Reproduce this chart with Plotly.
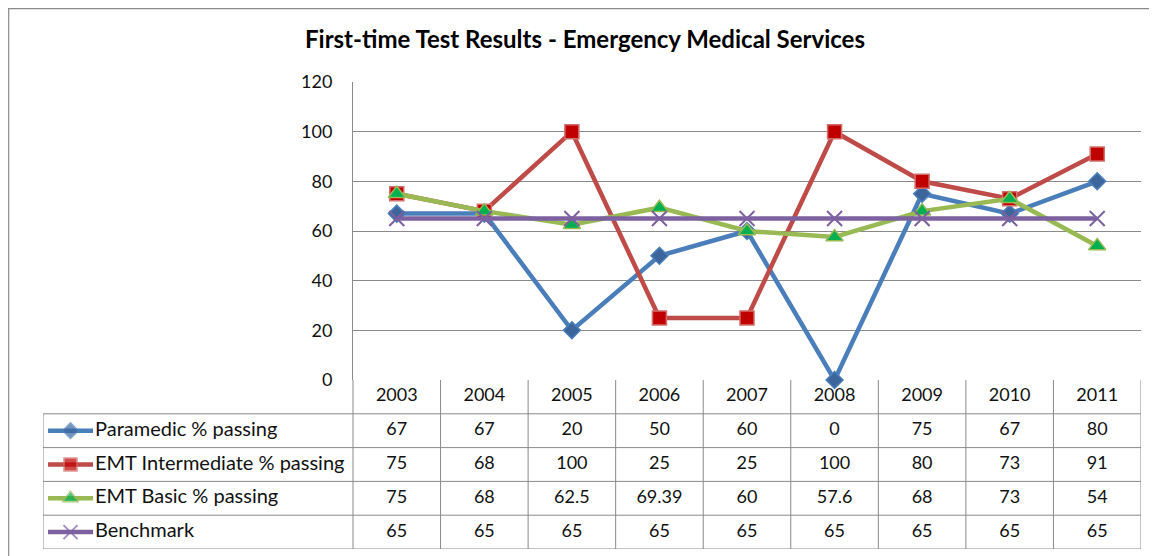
import plotly.graph_objects as go

# ---------------- data ----------------
years = ["2003", "2004", "2005", "2006", "2007", "2008", "2009", "2010", "2011"]
paramedic = [67, 67, 20, 50, 60, 0, 75, 67, 80]
emt_intermediate = [75, 68, 100, 25, 25, 100, 80, 73, 91]
emt_basic = [75, 68, 62.5, 69.39, 60, 57.6, 68, 73, 54]
benchmark = [65, 65, 65, 65, 65, 65, 65, 65, 65]
series_names = ["Paramedic % passing", "EMT Intermediate % passing",
                "EMT Basic % passing", "Benchmark"]
title_text = "First-time Test Results - Emergency Medical Services"
y_ticks = [0, 20, 40, 60, 80, 100, 120]

# ---------------- styling ----------------
W, H = 1157, 556
OFF = 8  # page body margin offset
FONT = "Lato"
GRID = "#8a8a8a"
styles = [
    dict(line="#4A7EBB", mfill="#3B659B", mline="#4A7EBB", symbol="diamond", size=13),
    dict(line="#BE4B48", mfill="#C00000", mline="#D26E6B", symbol="square", size=14),
    dict(line="#98B954", mfill="#00B050", mline="#98B954", symbol="triangle-up", size=15),
    dict(line="#7D60A0", mfill="#7D60A0", mline="#7D60A0", symbol="x-thin-open", size=15),
]
all_series = [paramedic, emt_intermediate, emt_basic, benchmark]


def xp(px):
    return (px - OFF) / W


def yp(py):
    return 1 - (py - OFF) / H


# pixel frame (screen coordinates)
PL, PR, PT, PB = 353, 1141, 82, 380       # plot area
TL, TB = 43, 549                            # table left / bottom
n = len(years)
cat_w = (PR - PL) / n
x2min = -0.5 - (PL - TL) / cat_w
nrows = 1 + len(all_series)


def px2x(px):
    return -0.5 + (px - PL) / cat_w


def fmt(v):
    return f"{v:g}"


fig = go.Figure()

# main lines
for name, vals, st in zip(series_names, all_series, styles):
    is_x = st["symbol"].startswith("x")
    fig.add_trace(go.Scatter(
        x=years, y=vals, name=name, mode="lines+markers",
        line=dict(color=st["line"], width=4.5),
        marker=dict(symbol=st["symbol"], size=st["size"], color=st["mfill"],
                    line=dict(color=st["mline"], width=2 if is_x else 1.5)),
        cliponaxis=False, showlegend=False, xaxis="x", yaxis="y"))

# table header (years)
fig.add_trace(go.Scatter(
    x=list(range(n)), y=[0.5] * n, text=years, mode="text",
    textfont=dict(family=FONT, size=18, color="#111"),
    showlegend=False, xaxis="x2", yaxis="y2", hoverinfo="skip"))

# table values + legend keys + labels
for r, (name, vals, st) in enumerate(zip(series_names, all_series, styles), start=1):
    yc = r + 0.5
    fig.add_trace(go.Scatter(
        x=list(range(n)), y=[yc] * n, text=[fmt(v) for v in vals], mode="text",
        textfont=dict(family=FONT, size=18, color="#111"),
        showlegend=False, xaxis="x2", yaxis="y2", hoverinfo="skip"))
    is_x = st["symbol"].startswith("x")
    fig.add_trace(go.Scatter(
        x=[px2x(48), px2x(70.5), px2x(93)], y=[yc] * 3, mode="lines+markers",
        line=dict(color=st["line"], width=4.5),
        marker=dict(symbol=st["symbol"], size=[0, st["size"] - 1, 0], color=st["mfill"],
                    line=dict(color=st["mline"], width=2 if is_x else 1.5)),
        showlegend=False, xaxis="x2", yaxis="y2", hoverinfo="skip", cliponaxis=False))
    fig.add_trace(go.Scatter(
        x=[px2x(95)], y=[yc], text=[name], mode="text", textposition="middle right",
        textfont=dict(family=FONT, size=20, color="#111"),
        showlegend=False, xaxis="x2", yaxis="y2", hoverinfo="skip", cliponaxis=False))

# table grid lines
shapes = []
for r in range(1, nrows + 1):
    shapes.append(dict(type="line", xref="x2", yref="y2", x0=x2min, x1=n - 0.5,
                       y0=r, y1=r, line=dict(color=GRID, width=1)))
for c in range(n + 1):
    shapes.append(dict(type="line", xref="x2", yref="y2", x0=c - 0.5, x1=c - 0.5,
                       y0=0, y1=nrows, line=dict(color=GRID, width=1)))
shapes.append(dict(type="line", xref="x2", yref="y2", x0=x2min, x1=x2min,
                   y0=1, y1=nrows, line=dict(color=GRID, width=1)))
# outer chart border (left and top edges visible)
shapes.append(dict(type="line", xref="paper", yref="paper", x0=0.0006, x1=0.0006,
                   y0=0, y1=1, line=dict(color=GRID, width=1.2)))
shapes.append(dict(type="line", xref="paper", yref="paper", x0=0, x1=1,
                   y0=0.999, y1=0.999, line=dict(color=GRID, width=1.2)))

fig.update_layout(
    template="none",
    width=W, height=H, margin=dict(l=0, r=0, t=0, b=0, pad=0),
    paper_bgcolor="white", plot_bgcolor="white",
    font=dict(family=FONT, size=18, color="#111"),
    title=dict(text=title_text, x=xp(585), xanchor="center", y=yp(40), yanchor="middle",
               font=dict(family=FONT, size=24, color="#000", weight="bold")),
    xaxis=dict(domain=[xp(PL), xp(PR)], range=[-0.5, n - 0.5], type="category",
               showticklabels=False, showgrid=False, zeroline=False, showline=False,
               ticks="", automargin=False),
    yaxis=dict(domain=[yp(PB), yp(PT)], range=[0, 120], tickvals=y_ticks,
               showgrid=True, gridcolor=GRID, gridwidth=1, zeroline=False,
               showline=True, linecolor=GRID, linewidth=1, ticks="", automargin=False,
               ticklabelstandoff=16, tickfont=dict(family=FONT, size=18, color="#111")),
    xaxis2=dict(domain=[xp(TL), xp(PR)], range=[x2min, n - 0.5], anchor="y2",
                visible=False, automargin=False),
    yaxis2=dict(domain=[yp(TB), yp(PB)], range=[nrows, 0], anchor="x2",
                visible=False, automargin=False),
    shapes=shapes,
)

fig.write_html("out.html")
